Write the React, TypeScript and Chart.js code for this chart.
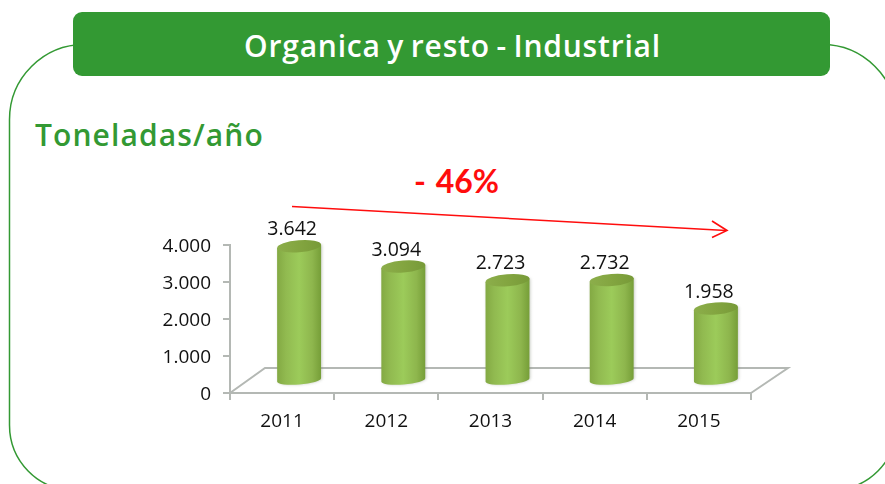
import React, { useEffect, useRef } from "react";
import { Chart, registerables } from "chart.js";

Chart.register(...registerables);

const categories = ["2011", "2012", "2013", "2014", "2015"];
const tonnes = [3642, 3094, 2723, 2732, 1958];
const valueLabels = ["3.642", "3.094", "2.723", "2.732", "1.958"];
const yTicks = [0, 1000, 2000, 3000, 4000];
const yTickLabels = ["0", "1.000", "2.000", "3.000", "4.000"];

const titleText = "Organica y resto - Industrial";
const unitText = "Toneladas/año";
const changeText = "- 46%";

const GREEN = "#339933";
const RED = "#ff0d0d";
const AXIS = "#b4b8b4";
const LABEL_FAMILY = '"Open Sans", sans-serif';

const DEPTH_X = 35;
const DEPTH_Y = 25;
const BAR_DX = 17;
const BAR_DY = -12;

const floorPlugin = {
  id: "floor3d",
  beforeDatasetsDraw(chart: any) {
    const { ctx, chartArea: a } = chart;
    ctx.save();
    ctx.strokeStyle = AXIS;
    ctx.lineWidth = 2;
    ctx.beginPath();
    ctx.moveTo(a.left, a.bottom);
    ctx.lineTo(a.left + DEPTH_X, a.bottom - DEPTH_Y);
    ctx.lineTo(a.right + DEPTH_X + 2, a.bottom - DEPTH_Y);
    ctx.lineTo(a.right, a.bottom);
    ctx.stroke();
    ctx.restore();
  },
};

const cylinderPlugin = {
  id: "cylinders",
  beforeDatasetDraw(chart: any, args: any) {
    const { ctx } = chart;
    const meta = args.meta;
    meta.data.forEach((bar: any, i: number) => {
      const p = bar.getProps(["x", "y", "base", "width"], true);
      const cx = p.x + BAR_DX;
      const top = p.y + BAR_DY;
      const bottom = p.base + BAR_DY;
      const rx = p.width / 2;
      const tilt = -0.08;
      const left = cx - rx;
      const right = cx + rx;
      ctx.save();
      const side = ctx.createLinearGradient(left, 0, right, 0);
      side.addColorStop(0, "#83a943");
      side.addColorStop(0.2, "#91ba50");
      side.addColorStop(0.5, "#9ccb5a");
      side.addColorStop(0.8, "#8eb64d");
      side.addColorStop(1, "#769e38");
      ctx.fillStyle = side;
      ctx.shadowColor = "rgba(120,130,110,0.4)";
      ctx.shadowBlur = 3;
      ctx.shadowOffsetX = 1;
      ctx.beginPath();
      ctx.ellipse(cx, bottom, rx, 4.5, tilt, 0, Math.PI);
      ctx.lineTo(left, top + 1.7);
      ctx.lineTo(right, top - 1.7);
      ctx.closePath();
      ctx.fill();
      ctx.shadowColor = "transparent";
      const cap = ctx.createLinearGradient(left, top, right, top);
      cap.addColorStop(0, "#8cae4b");
      cap.addColorStop(0.5, "#83a540");
      cap.addColorStop(1, "#779a38");
      ctx.fillStyle = cap;
      ctx.beginPath();
      ctx.ellipse(cx, top, rx, 6, tilt, 0, Math.PI * 2);
      ctx.fill();
      ctx.fillStyle = "#111111";
      ctx.font = `19.5px ${LABEL_FAMILY}`;
      ctx.textAlign = "center";
      ctx.textBaseline = "middle";
      ctx.fillText(valueLabels[i], p.x + 10, p.y - 28.5);
      ctx.restore();
    });
    return false;
  },
};

export default function App() {
  const ref = useRef<HTMLCanvasElement>(null);

  useEffect(() => {
    document.body.style.margin = "0";
    const chart = new Chart(ref.current!, {
      type: "bar",
      data: {
        labels: categories,
        datasets: [{ label: "Toneladas/año", data: tonnes, barThickness: 44, backgroundColor: "#8fbb4c" }],
      },
      options: {
        responsive: false,
        animation: false,
        layout: { padding: { top: 245, right: 134, left: 0, bottom: 0 } },
        plugins: { legend: { display: false }, tooltip: { enabled: false } },
        scales: {
          x: {
            afterFit: (s: any) => { s.height = 91; },
            grid: { display: true, drawOnChartArea: false, tickLength: 7, color: AXIS, lineWidth: 2, offset: true },
            border: { color: AXIS, width: 2 },
            ticks: { color: "#111111", font: { family: LABEL_FAMILY, size: 19 }, padding: 10, maxRotation: 0 },
          },
          y: {
            min: 0,
            max: 4000,
            afterFit: (s: any) => { s.width = 230; },
            afterBuildTicks: (s: any) => { s.ticks = yTicks.map((value) => ({ value })); },
            grid: { display: true, drawOnChartArea: false, tickLength: 7, color: AXIS, lineWidth: 2 },
            border: { color: AXIS, width: 2 },
            ticks: {
              color: "#111111",
              font: { family: LABEL_FAMILY, size: 19 },
              padding: 12,
              labelOffset: 2,
              callback: (v: any) => yTickLabels[yTicks.indexOf(Number(v))],
            },
          },
        },
      },
      plugins: [floorPlugin, cylinderPlugin],
    } as any);
    return () => chart.destroy();
  }, []);

  return (
    <div style={{ position: "relative", width: 885, height: 484, overflow: "hidden", background: "#ffffff" }}>
      <svg width={885} height={484} style={{ position: "absolute", left: 0, top: 0 }}>
        <path
          d="M 84.5 44.5 L 822 44.5 A 75 75 0 0 1 897 119.5 L 897 425 A 65 65 0 0 1 832 490 L 73 490 A 63.5 65 0 0 1 9.5 425 L 9.5 119.5 A 75 75 0 0 1 84.5 44.5 Z"
          fill="none"
          stroke={GREEN}
          strokeWidth={1.5}
        />
        <rect x={73} y={12} width={757} height={64} rx={9} ry={9} fill={GREEN} />
        <line x1={292} y1={206.5} x2={726} y2={230.5} stroke={RED} strokeWidth={1.4} />
        <polyline points="712,221 727,230.5 712,237.5" fill="none" stroke={RED} strokeWidth={1.6} />
      </svg>
      <div style={{ position: "absolute", left: 74, top: 12, width: 757, height: 64, lineHeight: "68px", textAlign: "center", color: "#ffffff", fontFamily: '"Open Sans", sans-serif', fontSize: 30, fontWeight: 600, letterSpacing: 0.8, wordSpacing: -2 }}>
        {titleText}
      </div>
      <div style={{ position: "absolute", left: 35, top: 113, lineHeight: "44px", color: GREEN, fontFamily: '"Open Sans", sans-serif', fontSize: 30, fontWeight: 600, letterSpacing: 1.1 }}>
        {unitText}
      </div>
      <div style={{ position: "absolute", left: 414, top: 160, lineHeight: "42px", color: RED, fontFamily: "Lato, sans-serif", fontSize: 32, fontWeight: 700, wordSpacing: 2 }}>
        {changeText}
      </div>
      <canvas ref={ref} width={885} height={484} style={{ position: "absolute", left: 0, top: 0 }} />
    </div>
  );
}
